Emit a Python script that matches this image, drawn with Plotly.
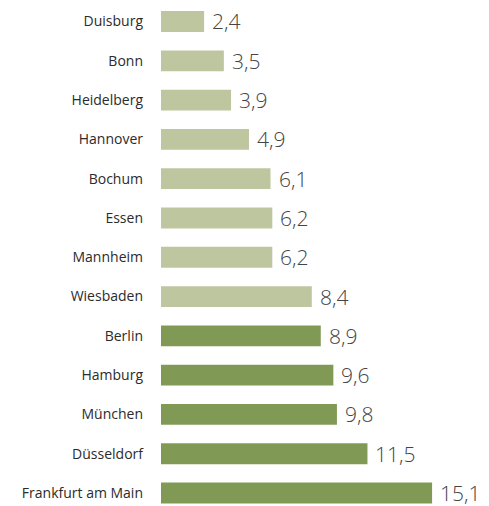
import plotly.graph_objects as go

# Cities and their values (top to bottom)
cities = ["Duisburg", "Bonn", "Heidelberg", "Hannover", "Bochum", "Essen",
          "Mannheim", "Wiesbaden", "Berlin", "Hamburg", "München",
          "Düsseldorf", "Frankfurt am Main"]
values = [2.4, 3.5, 3.9, 4.9, 6.1, 6.2, 6.2, 8.4, 8.9, 9.6, 9.8, 11.5, 15.1]
highlight = [False] * 8 + [True] * 5

LIGHT = "#bec6a0"
DARK = "#809a56"
colors = [DARK if h else LIGHT for h in highlight]
labels = [f"{v:.1f}".replace(".", ",") for v in values]

fig = go.Figure(go.Bar(
    x=values, y=cities, orientation="h",
    marker=dict(color=colors, line=dict(width=0)),
    width=0.53, hoverinfo="skip",
))

for c, v, t in zip(cities, values, labels):
    fig.add_annotation(x=v, y=c, text=t, xanchor="left", yanchor="middle",
                       xshift=6, showarrow=False,
                       font=dict(family="Open Sans", size=21, weight=300,
                                 color="#444444"))

fig.update_layout(
    width=489, height=506,
    margin=dict(l=161, r=0, t=0, b=0),
    paper_bgcolor="white", plot_bgcolor="white",
    showlegend=False,
    xaxis=dict(range=[0, 18.27], visible=False),
    yaxis=dict(
        categoryorder="array", categoryarray=cities,
        range=[12.33, -0.547],
        showgrid=False, zeroline=False, showline=False,
        ticks="", ticklabelstandoff=17,
        tickfont=dict(family="Open Sans", size=14, color="#2b2b2b"),
    ),
)

fig.write_html("out.html")
